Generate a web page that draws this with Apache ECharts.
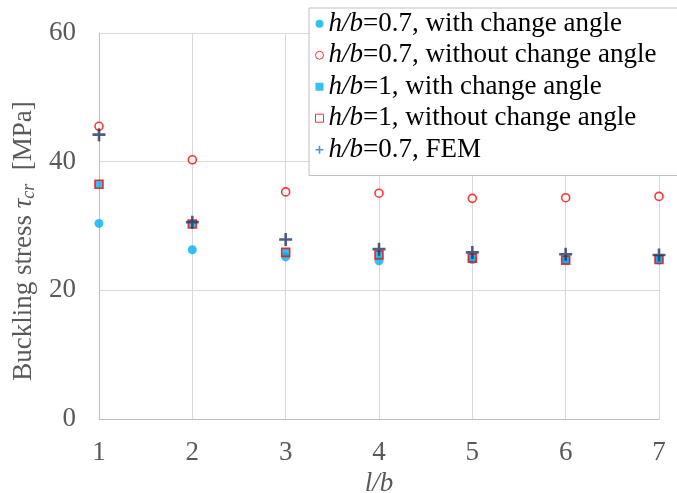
<!DOCTYPE html>
<html>
<head>
<meta charset="utf-8">
<script src="https://cdn.jsdelivr.net/npm/echarts@6/dist/echarts.min.js"></script>
<style>
  html, body { margin: 0; padding: 0; background: #fff; }
  #chart { width: 677px; height: 493px; }
</style>
</head>
<body>
<div id="chart"></div>
<script>
// l/b 取值
const lb = [1, 2, 3, 4, 5, 6, 7]
// 屈曲应力 (MPa)
const hb07With = [30.4, 26.3, 25.2, 24.6, 24.8, 24.7, 24.7]
const hb07Without = [45.5, 40.3, 35.3, 35.1, 34.3, 34.4, 34.6]
const hb1With = [36.5, 30.3, 25.9, 25.5, 25.0, 24.7, 24.8]
const hb1Without = [36.5, 30.3, 25.9, 25.5, 25.0, 24.7, 24.8]
const hb07Fem = [44.2, 30.6, 27.9, 26.4, 25.9, 25.6, 25.5]

const names = [
  'h/b=0.7, with change angle',
  'h/b=0.7, without change angle',
  'h/b=1, with change angle',
  'h/b=1, without change angle',
  'h/b=0.7, FEM'
]

const serif = 'Liberation Serif'
const gray = '#595959'
const plus = 'path://M4,0H6V4H10V6H6V10H4V6H0V4H4Z'

const pts = arr => arr.map((v, i) => [lb[i], v])

const chart = echarts.init(document.getElementById('chart'))

chart.setOption({
  animation: false,
  grid: { left: 99, right: 18, top: 33, bottom: 74, outerBoundsMode: 'none' },
  legend: {
    orient: 'vertical',
    left: 309,
    top: 8,
    padding: [0, 24, 10, 6],
    itemGap: 0,
    itemWidth: 8,
    itemHeight: 8,
    backgroundColor: '#fff',
    borderColor: '#bfbfbf',
    borderWidth: 1,
    selectedMode: false,
    data: [
      { name: names[0], icon: 'circle' },
      { name: names[1], icon: 'circle', itemStyle: { color: '#fff', borderColor: '#ff0000', borderWidth: 1 } },
      { name: names[2], icon: 'rect' },
      { name: names[3], icon: 'rect', itemStyle: { color: '#fff', borderColor: '#ff0000', borderWidth: 1 } },
      { name: names[4], icon: plus, itemStyle: { color: '#1a7fd0' } }
    ],
    formatter: n => n.replace('h/b', '{i|h/b}'),
    textStyle: {
      fontFamily: serif,
      fontSize: 27,
      color: '#000',
      lineHeight: 31.5,
      rich: {
        i: { fontFamily: serif, fontSize: 27, fontStyle: 'italic', color: '#000', lineHeight: 31.5 }
      }
    }
  },
  xAxis: {
    type: 'value',
    min: 1,
    max: 7,
    interval: 1,
    name: 'l/b',
    nameLocation: 'middle',
    nameGap: 47,
    nameTextStyle: { fontFamily: serif, fontSize: 27, fontStyle: 'italic', color: gray },
    axisLine: { show: true, lineStyle: { color: '#bfbfbf', width: 1 } },
    axisTick: { show: false },
    axisLabel: { fontFamily: serif, fontSize: 27, color: gray, margin: 20 },
    splitLine: { show: true, lineStyle: { color: '#d9d9d9', width: 1 } }
  },
  yAxis: {
    type: 'value',
    min: 0,
    max: 60,
    interval: 20,
    name: 'Buckling stress {t|τ}{s|cr}  [MPa]',
    nameLocation: 'middle',
    nameGap: 58,
    nameTextStyle: {
      fontFamily: serif,
      fontSize: 27,
      color: gray,
      padding: [0, 30, 0, 0],
      rich: {
        t: { fontFamily: serif, fontSize: 27, fontStyle: 'italic', color: gray },
        s: { fontFamily: serif, fontSize: 18, fontStyle: 'italic', color: gray, verticalAlign: 'bottom', padding: [10, 0, 0, 0] }
      }
    },
    axisLine: { show: true, lineStyle: { color: '#bfbfbf', width: 1 } },
    axisTick: { show: false },
    axisLabel: { fontFamily: serif, fontSize: 27, color: gray, margin: 23 },
    splitLine: { show: true, lineStyle: { color: '#d9d9d9', width: 1 } }
  },
  series: [
    {
      name: names[0],
      type: 'scatter',
      symbol: 'circle',
      symbolSize: 9,
      itemStyle: { color: '#00b0f0' },
      data: pts(hb07With),
      z: 2
    },
    {
      name: names[1],
      type: 'scatter',
      symbol: 'circle',
      symbolSize: 8,
      itemStyle: { color: '#fff', borderColor: '#ff0000', borderWidth: 1.6 },
      data: pts(hb07Without),
      z: 3
    },
    {
      name: names[2],
      type: 'scatter',
      symbol: 'rect',
      symbolSize: 8,
      itemStyle: { color: '#00b0f0' },
      data: pts(hb1With),
      z: 4
    },
    {
      name: names[3],
      type: 'scatter',
      symbol: 'rect',
      symbolSize: 8,
      itemStyle: { color: 'rgba(0,0,0,0)', borderColor: '#ff0000', borderWidth: 1.6 },
      data: pts(hb1Without),
      z: 5
    },
    {
      name: names[4],
      type: 'scatter',
      symbol: plus,
      symbolSize: 13,
      itemStyle: { color: '#203864' },
      data: pts(hb07Fem),
      z: 6
    }
  ]
})
</script>
</body>
</html>
